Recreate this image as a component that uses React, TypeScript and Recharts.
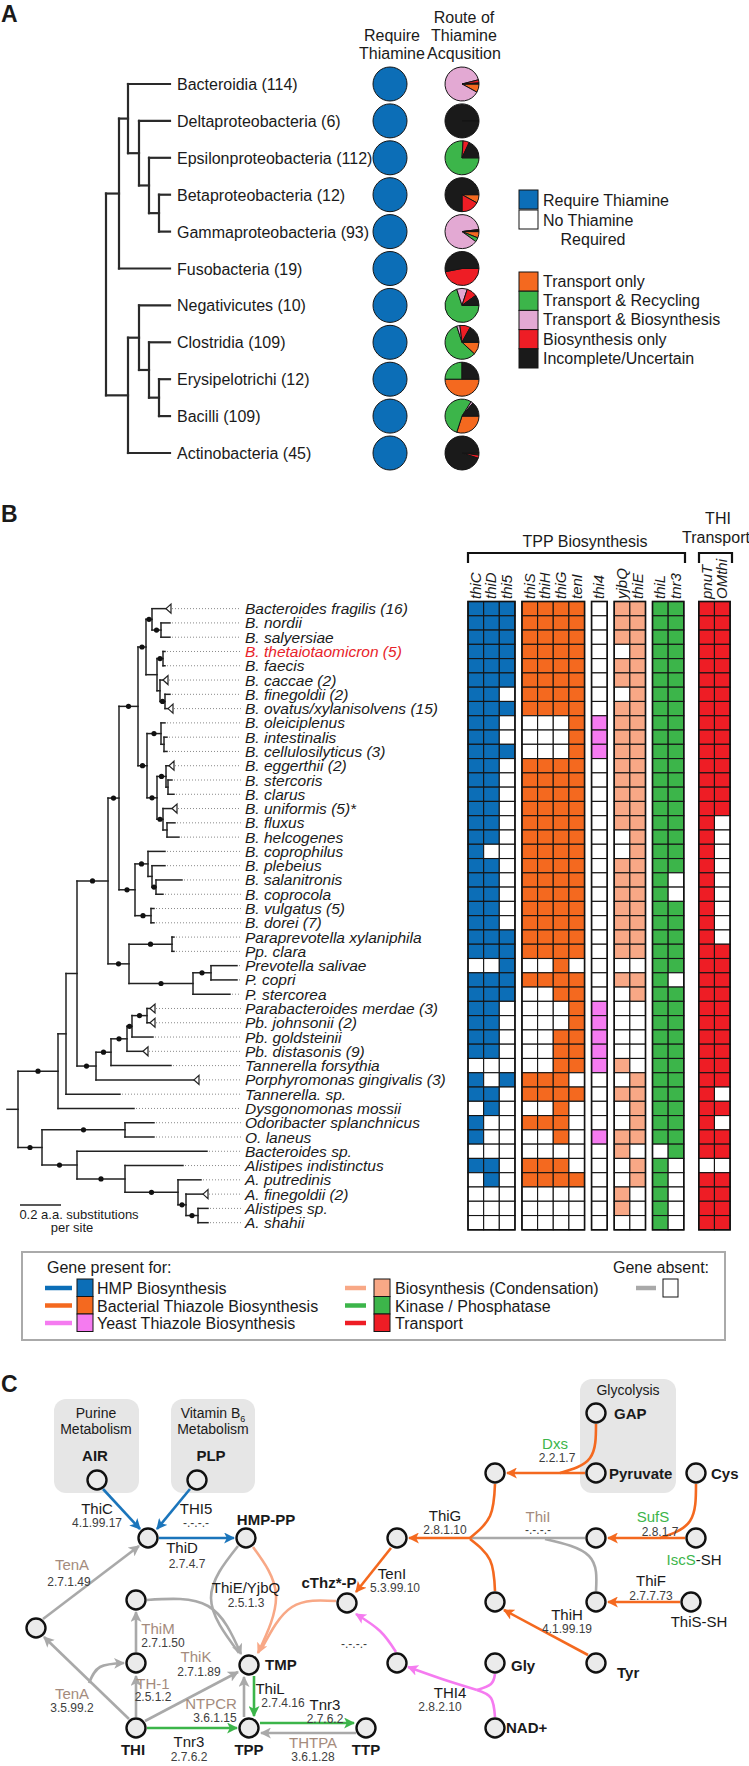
import React from 'react';
import { ComposedChart, XAxis, YAxis, Scatter, Line, ReferenceLine, PieChart, Pie, Cell } from 'recharts';

const W = 749;
const H = 1766;
const FONT = '"Liberation Sans", Arial, Helvetica, sans-serif';

const BLUE = '#0c6eb7';
const ORANGE = '#f4691f';
const GREEN = '#3cb54a';
const PINK = '#e3a9d3';
const RED = '#ee1d25';
const BLACK = '#1a1a1a';
const SALMON = '#f8a886';
const MAGENTA = '#f57bf0';
const GRAY = '#a9a9a9';
const TAUPE = '#a48b7d';
const EC = '#3d3d3d';

// ---------- panel A: thiamine requirement by class ----------
const classes = [
  'Bacteroidia (114)', 'Deltaproteobacteria (6)', 'Epsilonproteobacteria (112)', 'Betaproteobacteria (12)',
  'Gammaproteobacteria (93)', 'Fusobacteria (19)', 'Negativicutes (10)', 'Clostridia (109)',
  'Erysipelotrichi (12)', 'Bacilli (109)', 'Actinobacteria (45)',
];
const requireThiamine = [1, 1, 1, 1, 1, 1, 1, 1, 1, 1, 1];
const transportOnly = [8, 0, 0, 8, 6, 0, 0, 12, 50, 30, 1];
const transportRecycling = [0, 0, 76, 0, 4, 0, 70, 58, 25, 54, 1];
const transportBiosynthesis = [88, 0, 0, 0, 88, 0, 10, 3, 0, 2, 0];
const biosynthesisOnly = [3, 0, 6, 17, 1, 47, 10, 10, 0, 0, 3];
const incomplete = [1, 100, 18, 75, 1, 53, 10, 17, 25, 14, 95];
const routeNames = ['Transport only', 'Transport & Recycling', 'Transport & Biosynthesis', 'Biosynthesis only', 'Incomplete/Uncertain'];
const routeColors = [ORANGE, GREEN, PINK, RED, BLACK];
const routeSeries = [transportOnly, transportRecycling, transportBiosynthesis, biosynthesisOnly, incomplete];

// ---------- panel B: gene presence ----------
const species = [
  'Bacteroides fragilis (16)', 'B. nordii', 'B. salyersiae', 'B. thetaiotaomicron (5)', 'B. faecis', 'B. caccae (2)',
  'B. finegoldii (2)', 'B. ovatus/xylanisolvens (15)', 'B. oleiciplenus', 'B. intestinalis', 'B. cellulosilyticus (3)',
  'B. eggerthii (2)', 'B. stercoris', 'B. clarus', 'B. uniformis (5)*', 'B. fluxus', 'B. helcogenes', 'B. coprophilus',
  'B. plebeius', 'B. salanitronis', 'B. coprocola', 'B. vulgatus (5)', 'B. dorei (7)', 'Paraprevotella xylaniphila',
  'Pp. clara', 'Prevotella salivae', 'P. copri', 'P. stercorea', 'Parabacteroides merdae (3)', 'Pb. johnsonii (2)',
  'Pb. goldsteinii', 'Pb. distasonis (9)', 'Tannerella forsythia', 'Porphyromonas gingivalis (3)', 'Tannerella. sp.',
  'Dysgonomonas mossii', 'Odoribacter splanchnicus', 'O. laneus', 'Bacteroides sp.', 'Alistipes indistinctus',
  'A. putredinis', 'A. finegoldii (2)', 'Alistipes sp.', 'A. shahii',
];
const highlighted = 'B. thetaiotaomicron (5)';
const genes = ['thiC', 'thiD', 'thi5', 'thiS', 'thiH', 'thiG', 'tenI', 'thi4', 'yjbQ', 'thiE', 'thiL', 'tnr3', 'pnuT', 'OMthi'];
const geneGroup = [0, 0, 0, 1, 1, 1, 1, 2, 3, 3, 4, 4, 5, 5];
const groupColors = [BLUE, ORANGE, MAGENTA, SALMON, GREEN, RED];
const presence = [
  '111 1111 0 11 11 11', '111 1111 0 11 11 11', '111 1111 0 11 11 11', '111 1111 0 01 11 11',
  '111 1111 0 11 11 11', '111 1111 0 11 11 11', '110 1111 0 01 11 11', '111 1111 0 11 11 11',
  '110 0001 1 11 11 11', '110 0001 1 11 11 11', '111 0001 1 11 11 11', '110 1111 0 11 11 11',
  '110 1111 0 11 11 11', '110 1111 0 11 11 11', '110 1111 0 11 11 11', '110 1111 0 11 11 10',
  '110 1111 0 01 11 10', '100 1111 0 01 11 10', '110 1111 0 11 11 10', '110 1111 0 11 10 10',
  '110 1111 0 11 10 10', '110 1111 0 11 11 10', '110 1111 0 11 11 10', '111 1111 0 11 11 10',
  '111 1111 0 11 11 11', '001 0010 0 00 11 11', '111 1111 0 11 10 11', '111 0011 0 01 11 11',
  '110 0001 1 00 11 11', '110 0001 1 00 11 11', '110 0011 1 00 11 11', '110 0011 1 00 11 11',
  '000 0011 1 10 11 11', '101 1110 0 01 11 11', '110 1111 0 11 11 10', '010 0010 0 01 11 11',
  '100 1110 0 01 11 10', '100 0010 1 11 11 11', '000 0000 0 10 01 11', '110 1110 0 01 10 00',
  '010 1111 0 01 10 11', '000 0000 0 10 10 11', '000 0000 0 10 10 11', '000 0000 0 00 10 11',
];
// branch tip positions (branch length) and collapsed clades
const tipB = [166, 170, 170, 165, 165, 163, 170, 168, 165, 167, 167, 169, 172, 174, 172, 175, 179, 165, 165, 182, 163, 154,
  154, 174, 174, 237, 237, 230, 150, 150, 153, 143, 171, 194, 120, 134, 154, 154, 207, 183, 201, 203, 208, 208];
const collapsedB = [0, 5, 7, 11, 14, 28, 29, 31, 33, 41];

type TreeNode = number | { x: number; c: TreeNode[]; dot: boolean };
const n = (x: number, c: TreeNode[], dot = true): TreeNode => ({ x, c, dot });

const treeA = n(106, [
  n(119, [n(128, [0, n(139, [1, n(149, [2, n(159, [3, 4], false)], false)], false)], false), 5], false),
  n(128, [n(139, [6, n(149, [7, n(159, [8, 9], false)], false)], false), 10], false),
], false);

const treeB = n(18, [
  n(58, [
    n(66, [
      n(77, [
        n(108, [
          n(119, [
            n(138, [
              n(146, [
                n(152, [0, n(161, [1, 2])]),
                n(157, [n(163, [3, 4]), n(160, [5, n(165, [6, 7])], false)], false),
              ]),
              n(147, [
                n(161, [8, n(164, [9, 10], false)]),
                n(157, [n(166, [11, n(168, [12, 13], false)]), n(163, [14, n(167, [15, 16], false)])]),
              ]),
            ]),
            n(135, [
              n(148, [17, n(152, [18, n(156, [19, 20])], false)]),
              n(151, [21, 22]),
            ]),
          ]),
          n(129, [n(172, [23, 24]), n(193, [n(211, [25, 26]), 27])]),
        ]),
        n(96, [n(111, [n(127, [n(132, [n(147, [28, 29]), 30]), 31]), 32]), 33]),
      ], false),
      34,
    ], false),
    35,
  ]),
  n(42, [
    n(125, [36, 37]),
    n(77, [38, n(125, [39, n(178, [40, n(186, [41, n(198, [42, 43])])])])]),
  ]),
], false);

// ---------- panel C: pathway ----------
const metabolites = [
  [97, 1480], [197, 1480], [148, 1538], [246, 1538], [36, 1628], [136, 1600], [136, 1663], [136, 1728],
  [249, 1665], [249, 1728], [366, 1728], [347, 1603], [397, 1538], [495, 1473], [596, 1413], [596, 1473],
  [696, 1473], [596, 1538], [696, 1538], [495, 1602], [596, 1602], [691, 1602], [596, 1663], [495, 1663],
  [495, 1728], [397, 1663],
];
const edgeColors: Record<string, string> = { blue: '#1b75bb', gray: GRAY, green: GREEN, salmon: SALMON, orange: ORANGE, magenta: MAGENTA };
const edges: { c: string; p: number[][]; a?: boolean }[] = [
  { c: 'blue', p: [[103, 1489], [140, 1529]], a: true },
  { c: 'blue', p: [[190, 1489], [157, 1529]], a: true },
  { c: 'blue', p: [[159, 1538], [234, 1538]], a: true },
  { c: 'gray', p: [[43, 1619], [139, 1546]], a: true },
  { c: 'gray', p: [[129, 1719], [44, 1637]], a: true },
  { c: 'gray', p: [[89, 1683], [100, 1667], [124, 1663]], a: true },
  { c: 'gray', p: [[136, 1717], [136, 1676]], a: true },
  { c: 'gray', p: [[136, 1652], [136, 1612]], a: true },
  { c: 'gray', p: [[145, 1721], [238, 1672]], a: true },
  { c: 'gray', p: [[147, 1600], [208, 1606], [241, 1654]], a: true },
  { c: 'gray', p: [[238, 1546], [211, 1598], [239, 1653]] },
  { c: 'gray', p: [[244, 1717], [244, 1677]], a: true },
  { c: 'gray', p: [[356, 1733], [261, 1733]], a: true },
  { c: 'gray', p: [[585, 1538], [470, 1538]] },
  { c: 'gray', p: [[596, 1591], [589, 1556], [545, 1539]] },
  { c: 'green', p: [[147, 1728], [237, 1728]], a: true },
  { c: 'green', p: [[254, 1676], [254, 1716]], a: true },
  { c: 'green', p: [[260, 1723], [354, 1723]], a: true },
  { c: 'salmon', p: [[253, 1547], [276, 1595], [258, 1653]], a: true },
  { c: 'salmon', p: [[336, 1601], [292, 1607], [262, 1648]] },
  { c: 'orange', p: [[596, 1424], [590, 1458], [560, 1473]] },
  { c: 'orange', p: [[585, 1473], [507, 1473]], a: true },
  { c: 'orange', p: [[696, 1484], [690, 1521], [660, 1538]] },
  { c: 'orange', p: [[685, 1538], [608, 1538]], a: true },
  { c: 'orange', p: [[495, 1484], [490, 1516], [470, 1538]] },
  { c: 'orange', p: [[470, 1538], [409, 1538]], a: true },
  { c: 'orange', p: [[495, 1591], [490, 1560], [470, 1539]] },
  { c: 'orange', p: [[391, 1548], [356, 1592]], a: true },
  { c: 'orange', p: [[680, 1602], [608, 1602]], a: true },
  { c: 'orange', p: [[588, 1655], [504, 1610]], a: true },
  { c: 'magenta', p: [[495, 1717], [491, 1698], [477, 1690]] },
  { c: 'magenta', p: [[495, 1674], [491, 1684], [477, 1690]] },
  { c: 'magenta', p: [[477, 1690], [442, 1679], [408, 1667]], a: true },
  { c: 'magenta', p: [[396, 1652], [380, 1631], [356, 1614]], a: true },
];

const met = (t: string, x: number, y: number, anchor = 'middle') => ({ t, x, y, bold: true, size: 15, anchor });
const enz = (t: string, x: number, y: number, color = BLACK) => ({ t, x, y, size: 15, color });
const ec = (t: string, x: number, y: number) => ({ t, x, y, size: 12, color: EC });
const pathwayLabels: any[] = [
  met('AIR', 95, 1461), met('PLP', 211, 1461), met('HMP-PP', 266, 1525), met('cThz*-P', 329, 1588),
  met('TMP', 265, 1670, 'start'), met('THI', 133, 1755), met('TPP', 249, 1755), met('TTP', 366, 1755),
  met('GAP', 614, 1419, 'start'), met('Pyruvate', 609, 1479, 'start'), met('Cys', 711, 1479, 'start'),
  met('Gly', 511, 1671, 'start'), met('Tyr', 617, 1678, 'start'), met('NAD+', 506, 1733, 'start'),
  enz('ThiC', 97, 1514), ec('4.1.99.17', 97, 1527), enz('THI5', 196, 1514), ec('-.-.-.-', 196, 1527),
  enz('ThiD', 182, 1553), ec('2.7.4.7', 187, 1568), enz('TenA', 72, 1570, TAUPE), ec('2.7.1.49', 69, 1586),
  enz('ThiE/YjbQ', 246, 1593), ec('2.5.1.3', 246, 1607), enz('ThiM', 158, 1634, TAUPE), ec('2.7.1.50', 163, 1647),
  enz('ThiK', 196, 1662, TAUPE), ec('2.7.1.89', 199, 1676), enz('TH-1', 153, 1689, TAUPE), ec('2.5.1.2', 153, 1701),
  enz('TenA', 72, 1699, TAUPE), ec('3.5.99.2', 72, 1712), enz('NTPCR', 211, 1709, TAUPE), ec('3.6.1.15', 215, 1722),
  enz('ThiL', 270, 1694), ec('2.7.4.16', 283, 1707), enz('Tnr3', 325, 1710), ec('2.7.6.2', 325, 1723),
  enz('Tnr3', 189, 1747), ec('2.7.6.2', 189, 1761), enz('THTPA', 313, 1748, TAUPE), ec('3.6.1.28', 313, 1761),
  enz('TenI', 392, 1579), ec('5.3.99.10', 395, 1592), ec('-.-.-.-', 354, 1648), enz('THI4', 450, 1698),
  ec('2.8.2.10', 440, 1711), enz('ThiG', 445, 1521), ec('2.8.1.10', 445, 1534), enz('ThiI', 538, 1522, TAUPE),
  ec('-.-.-.-', 538, 1534), enz('Dxs', 555, 1449, GREEN), ec('2.2.1.7', 557, 1462), enz('SufS', 653, 1522, GREEN),
  ec('2.8.1.7', 660, 1536), { x: 694, y: 1565, size: 15, parts: [{ t: 'IscS', color: GREEN }, { t: '-SH' }] },
  enz('ThiF', 651, 1586), ec('2.7.7.73', 651, 1600), enz('ThiS-SH', 699, 1627), enz('ThiH', 567, 1620),
  ec('4.1.99.19', 567, 1633),
];

// ---------- layout helpers ----------
const rowA = (i: number) => 84 + i * 36.9;
const ROW_H = 14.28;
const GRID_TOP = 601.5;
const rowB = (i: number) => GRID_TOP + ROW_H / 2 + i * ROW_H;
const CELL_W = 15.65;
const groupGap = [0, 7, 7, 7, 7, 15];
const colLeft: number[] = [];
{
  let x = 468;
  genes.forEach((_, j) => {
    if (j > 0 && geneGroup[j] !== geneGroup[j - 1]) x += groupGap[geneGroup[j]];
    colLeft.push(x);
    x += CELL_W;
  });
}
const colCenter = colLeft.map((l) => l + CELL_W / 2);

interface Seg { x1: number; y1: number; x2: number; y2: number }
function layoutTree(node: TreeNode, parentX: number | null, rowY: (i: number) => number, tip: (i: number) => number,
  segs: Seg[], dots: { x: number; y: number }[]): number {
  if (typeof node === 'number') {
    const y = rowY(node);
    if (parentX !== null) segs.push({ x1: parentX, y1: y, x2: tip(node), y2: y });
    return y;
  }
  const ys = node.c.map((ch) => layoutTree(ch, node.x, rowY, tip, segs, dots));
  const y = (ys[0] + ys[ys.length - 1]) / 2;
  segs.push({ x1: node.x, y1: ys[0], x2: node.x, y2: ys[ys.length - 1] });
  if (parentX !== null) {
    segs.push({ x1: parentX, y1: y, x2: node.x, y2: y });
    if (node.dot) dots.push({ x: (parentX + node.x) / 2, y });
  }
  return y;
}

const segsA: Seg[] = [];
layoutTree(treeA, null, rowA, () => 170, segsA, []);
const segsB: Seg[] = [];
const dotsB: { x: number; y: number }[] = [];
layoutTree(treeB, 7, rowB, (i) => tipB[i], segsB, dotsB);

const leaders = species.map((_, i) => ({ x1: tipB[i] + (collapsedB.includes(i) ? 6 : 2), x2: 241, y: rowB(i) }));
const triangles = collapsedB.map((i) => ({ x: tipB[i], y: rowB(i) }));
const cells = presence.flatMap((row, i) => row.replace(/ /g, '').split('').map((v, j) => ({
  x: colCenter[j], y: rowB(i), fill: v === '1' ? groupColors[geneGroup[j]] : '#fff',
})));
const classLabels = classes.map((t, i) => ({ t, x: 177, y: rowA(i) + 6, size: 16, anchor: 'start' }));
const requireDots = requireThiamine.map((v, i) => ({ x: 390, y: rowA(i), fill: v ? BLUE : '#fff' }));
const speciesLabels = species.map((t, i) => ({
  t, x: 245, y: rowB(i) + 5.5, size: 15.5, italic: true, anchor: 'start', color: t === highlighted ? '#e8232a' : BLACK,
}));
const metaboliteNodes = metabolites.map(([x, y]) => ({ x, y }));

// ---------- shapes ----------
const TextShape = (p: any) => {
  const d = p.payload;
  return (
    <text x={p.cx} y={p.cy} textAnchor={d.anchor || 'middle'} fontSize={d.size || 15} fontWeight={d.bold ? 700 : 400}
      fontStyle={d.italic ? 'italic' : 'normal'} fill={d.color || BLACK} fontFamily={FONT}>
      {d.parts ? d.parts.map((q: any, k: number) => <tspan key={k} fill={q.color || BLACK}>{q.t}</tspan>) : d.t}
    </text>
  );
};
const CellShape = (p: any) => (
  <rect x={p.cx - CELL_W / 2} y={p.cy - ROW_H / 2} width={CELL_W} height={ROW_H} fill={p.payload.fill} stroke="#151515" strokeWidth={1.1} />
);
const BigDot = (p: any) => <circle cx={p.cx} cy={p.cy} r={17} fill={p.payload.fill} stroke="#151515" strokeWidth={1} />;
const NodeDot = (p: any) => <circle cx={p.cx} cy={p.cy} r={2.6} fill="#111" />;
const Triangle = (p: any) => (
  <path d={`M${p.cx},${p.cy} L${p.cx + 5},${p.cy - 4.5} L${p.cx + 5},${p.cy + 4.5} Z`} fill="#fff" stroke="#222" strokeWidth={1.2} />
);
const Metabolite = (p: any) => <circle cx={p.cx} cy={p.cy} r={9.5} fill="#ebebeb" stroke="#111" strokeWidth={2.4} />;

const legendLeft: [string, string][] = [['HMP Biosynthesis', BLUE], ['Bacterial Thiazole Biosynthesis', ORANGE], ['Yeast Thiazole Biosynthesis', MAGENTA]];
const legendRight: [string, string][] = [['Biosynthesis (Condensation)', SALMON], ['Kinase / Phosphatase', GREEN], ['Transport', RED]];
const groupSpans = groupColors.map((_, g) => {
  const idx = genes.map((_, j) => j).filter((j) => geneGroup[j] === g);
  return { x: colLeft[idx[0]], w: idx.length * CELL_W };
});

export default function App() {
  const abs: React.CSSProperties = { position: 'absolute', left: 0, top: 0 };
  return (
    <div style={{ position: 'relative', width: W, height: H, background: '#fff', fontFamily: FONT, overflow: 'hidden' }}>
      <style>{'body{margin:0}'}</style>
      {/* background boxes of panel C */}
      <svg style={abs} width={W} height={H}>
        <rect x={54} y={1399} width={85} height={94} rx={12} fill="#e6e6e6" />
        <rect x={171} y={1399} width={84} height={94} rx={12} fill="#e6e6e6" />
        <rect x={580} y={1379} width={96} height={114} rx={12} fill="#e6e6e6" />
      </svg>

      <div style={abs}>
        <ComposedChart width={W} height={H} margin={{ top: 0, right: 0, bottom: 0, left: 0 }}>
          <XAxis type="number" dataKey="x" domain={[0, W]} hide allowDataOverflow />
          <YAxis type="number" dataKey="y" domain={[0, H]} hide reversed allowDataOverflow />
          {segsA.map((s, i) => (
            <ReferenceLine key={`a${i}`} segment={[{ x: s.x1, y: s.y1 }, { x: s.x2, y: s.y2 }]} stroke="#2a2a2a" strokeWidth={2.2} strokeLinecap="square" ifOverflow="visible" />
          ))}
          {leaders.map((l, i) => (
            <ReferenceLine key={`l${i}`} segment={[{ x: l.x1, y: l.y }, { x: l.x2, y: l.y }]} stroke="#8a8a8a" strokeWidth={1} strokeDasharray="1 2" ifOverflow="visible" />
          ))}
          {segsB.map((s, i) => (
            <ReferenceLine key={`b${i}`} segment={[{ x: s.x1, y: s.y1 }, { x: s.x2, y: s.y2 }]} stroke="#222" strokeWidth={1.5} strokeLinecap="square" ifOverflow="visible" />
          ))}
          <Scatter data={classLabels} shape={TextShape} isAnimationActive={false} />
          <Scatter data={requireDots} shape={BigDot} isAnimationActive={false} />
          <Scatter data={triangles} shape={Triangle} isAnimationActive={false} />
          <Scatter data={dotsB} shape={NodeDot} isAnimationActive={false} />
          <Scatter data={speciesLabels} shape={TextShape} isAnimationActive={false} />
          <Scatter data={cells} shape={CellShape} isAnimationActive={false} />
          {edges.map((e, i) => (
            <Line key={`e${i}`} data={e.p.map(([x, y]) => ({ x, y }))} dataKey="y" type={e.p.length > 2 ? 'natural' : 'linear'}
              stroke={edgeColors[e.c]} strokeWidth={2.6} dot={false} activeDot={false} isAnimationActive={false}
              markerEnd={e.a ? `url(#arrow-${e.c})` : undefined} />
          ))}
          <Scatter data={metaboliteNodes} shape={Metabolite} isAnimationActive={false} />
          <Scatter data={pathwayLabels} shape={TextShape} isAnimationActive={false} />
        </ComposedChart>
      </div>

      <div style={abs}>
        <PieChart width={W} height={480} margin={{ top: 0, right: 0, bottom: 0, left: 0 }}>
          {classes.map((c, i) => {
            const data = routeSeries.map((s, k) => ({ name: routeNames[k], value: s[i], color: routeColors[k] })).filter((d) => d.value > 0);
            return (
              <Pie key={c} data={data} dataKey="value" cx={462} cy={rowA(i)} outerRadius={17} startAngle={0} endAngle={-360}
                stroke="#151515" strokeWidth={1} isAnimationActive={false} label={false} labelLine={false}>
                {data.map((d) => <Cell key={d.name} fill={d.color} />)}
              </Pie>
            );
          })}
        </PieChart>
      </div>

      {/* annotation layer */}
      <svg style={{ ...abs, pointerEvents: 'none' }} width={W} height={H} fontFamily={FONT} fontSize={16} fill={BLACK}>
        <defs>
          {Object.entries(edgeColors).map(([k, c]) => (
            <marker key={k} id={`arrow-${k}`} viewBox="0 0 10 10" refX="9" refY="5" markerWidth="11" markerHeight="11" markerUnits="userSpaceOnUse" orient="auto">
              <path d="M0,0 L10,5 L0,10 L2.5,5 z" fill={c} />
            </marker>
          ))}
        </defs>
        {/* panel A */}
        <text x={1} y={22} fontSize={23} fontWeight={700}>A</text>
        <text x={392} y={41} textAnchor="middle">Require</text>
        <text x={392} y={59} textAnchor="middle">Thiamine</text>
        <text x={464} y={23} textAnchor="middle">Route of</text>
        <text x={464} y={41} textAnchor="middle">Thiamine</text>
        <text x={464} y={59} textAnchor="middle">Acqusition</text>
        <rect x={519} y={190} width={19} height={19} fill={BLUE} stroke="#151515" />
        <rect x={519} y={210} width={19} height={19} fill="#fff" stroke="#151515" />
        <text x={543} y={206}>Require Thiamine</text>
        <text x={543} y={226}>No Thiamine</text>
        <text x={593} y={245} textAnchor="middle">Required</text>
        {routeNames.map((r, k) => (
          <g key={r}>
            <rect x={519} y={272 + k * 19.2} width={19} height={19.2} fill={routeColors[k]} stroke="#151515" />
            <text x={543} y={287 + k * 19.2}>{r}</text>
          </g>
        ))}

        {/* panel B */}
        <text x={1} y={522} fontSize={23} fontWeight={700}>B</text>
        <text x={585} y={547} textAnchor="middle">TPP Biosynthesis</text>
        <path d="M468,563 V553 H685 V563" fill="none" stroke="#111" strokeWidth={2.2} />
        <text x={718} y={524} textAnchor="middle">THI</text>
        <text x={716} y={543} textAnchor="middle">Transport</text>
        <path d="M699,563 V553 H732 V563" fill="none" stroke="#111" strokeWidth={2.2} />
        {genes.map((g, j) => (
          <text key={g} x={colCenter[j] + 5} y={599} transform={`rotate(-90 ${colCenter[j] + 5} 599)`} fontSize={15} fontStyle="italic">{g}</text>
        ))}
        {groupSpans.map((s, g) => (
          <rect key={g} x={s.x} y={GRID_TOP} width={s.w} height={species.length * ROW_H} fill="none" stroke="#111" strokeWidth={1.6} />
        ))}
        <line x1={20} x2={61} y1={1205} y2={1205} stroke="#222" strokeWidth={1.5} />
        <text x={79} y={1219} fontSize={13} textAnchor="middle">0.2 a.a. substitutions</text>
        <text x={72} y={1232} fontSize={13} textAnchor="middle">per site</text>

        <rect x={22} y={1252} width={703} height={88} fill="none" stroke="#aaa" strokeWidth={2} />
        <text x={47} y={1273}>Gene present for:</text>
        <text x={661} y={1273} textAnchor="middle">Gene absent:</text>
        <line x1={636} x2={656} y1={1288} y2={1288} stroke={GRAY} strokeWidth={4.5} />
        <rect x={663} y={1279} width={15} height={18} fill="#fff" stroke="#151515" />
        {legendLeft.map(([t, c], k) => (
          <g key={t}>
            <line x1={45} x2={72} y1={1288 + k * 17.5} y2={1288 + k * 17.5} stroke={c} strokeWidth={4.5} />
            <rect x={77} y={1279 + k * 17.5} width={16} height={17.5} fill={c} stroke="#151515" />
            <text x={97} y={1294 + k * 17.5}>{t}</text>
          </g>
        ))}
        {legendRight.map(([t, c], k) => (
          <g key={t}>
            <line x1={345} x2={366} y1={1288 + k * 17.5} y2={1288 + k * 17.5} stroke={c} strokeWidth={4.5} />
            <rect x={374} y={1279 + k * 17.5} width={16} height={17.5} fill={c} stroke="#151515" />
            <text x={395} y={1294 + k * 17.5}>{t}</text>
          </g>
        ))}

        {/* panel C */}
        <text x={1} y={1392} fontSize={23} fontWeight={700}>C</text>
        <text x={96} y={1418} fontSize={14} textAnchor="middle">Purine</text>
        <text x={96} y={1434} fontSize={14} textAnchor="middle">Metabolism</text>
        <text x={213} y={1418} fontSize={14} textAnchor="middle">Vitamin B<tspan fontSize={9} dy={4}>6</tspan></text>
        <text x={213} y={1434} fontSize={14} textAnchor="middle">Metabolism</text>
        <text x={628} y={1395} fontSize={14} textAnchor="middle">Glycolysis</text>
      </svg>
    </div>
  );
}
